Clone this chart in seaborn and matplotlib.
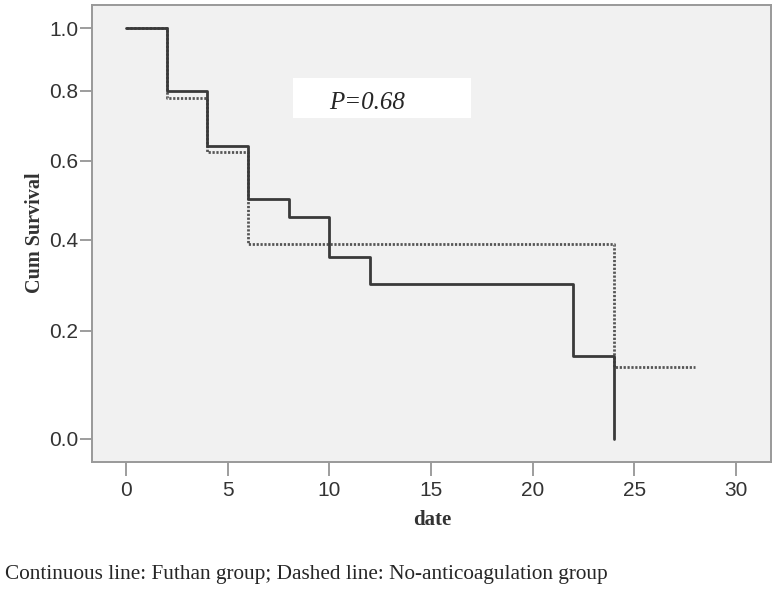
import numpy as np
import seaborn as sb
import matplotlib
matplotlib.use("Agg")
import matplotlib.pyplot as plt
from matplotlib.patches import Rectangle

### Kaplan-Meier steps.
futhan_time = [0, 2, 4, 6, 8, 10, 12, 22, 24]
futhan_surv = [1.0, 0.80, 0.64, 0.50, 0.455, 0.36, 0.30, 0.15, 0.0]
noanti_time = [0, 2, 4, 6, 24, 28]
noanti_surv = [1.0, 0.778, 0.622, 0.389, 0.13, 0.13]

y_ticks = [0.0, 0.2, 0.4, 0.6, 0.8, 1.0]
x_ticks = [0, 5, 10, 15, 20, 25, 30]
p_text = "P=0.68"
caption = "Continuous line: Futhan group; Dashed line: No-anticoagulation group"

sb.set_style("white")
plt.rcParams['font.family'] = ['Liberation Sans', 'DejaVu Sans']

fig = plt.figure(figsize=(7.78, 5.91), dpi=100)
ax = fig.add_axes([0.1183, 0.2188, 0.8723, 0.7727])
ax.set_facecolor('#f1f1f1')

### Survival axis is drawn on a log(1+S) scale, like the original.
ax.set_yscale('function', functions=(np.log1p, np.expm1))

sb.lineplot(x=noanti_time, y=noanti_surv, ax=ax, estimator=None, sort=False,
            drawstyle='steps-post', color='#555555', linewidth=2.0,
            linestyle=(0, (0.8, 0.6)))
sb.lineplot(x=futhan_time, y=futhan_surv, ax=ax, estimator=None, sort=False,
            drawstyle='steps-post', color='#3a3a3a', linewidth=2.0)

ax.set_xlim(-1.67, 31.7)
ax.set_ylim(-0.0376, 1.0802)
ax.set_xticks(x_ticks)
ax.set_xticklabels([str(t) for t in x_ticks])
ax.set_yticks(y_ticks)
ax.set_yticklabels(['%.1f' % t for t in y_ticks])
ax.yaxis.set_minor_locator(matplotlib.ticker.NullLocator())
ax.tick_params(axis='both', direction='out', color='#8c8c8c', width=1.2,
               labelsize=15, labelcolor='#333333', bottom=True, left=True)
ax.tick_params(axis='x', length=10, pad=4)
ax.tick_params(axis='y', length=8.5, pad=1.5)
for s in ax.spines.values():
    s.set_color('#999999')
    s.set_linewidth(1.4)
ax.set_xlabel('')
ax.set_ylabel('')

### P value box.
fig.patches.append(Rectangle((292.7 / 778, 1 - 117.7 / 591), 178 / 778, 39.4 / 591,
                             transform=fig.transFigure, facecolor='white',
                             edgecolor='none', zorder=3))
fig.text(366.7 / 778, 1 - 109.3 / 591, p_text, ha='center', va='baseline',
         fontsize=18, style='italic', family='Liberation Serif', zorder=4)

fig.text(35 / 778, 1 - 233 / 591, 'Cum Survival', rotation=90, ha='center',
         va='center', fontsize=14.5, fontweight='bold', family='Liberation Serif',
         color='#333333')
fig.text(432 / 778, 1 - 520 / 591, 'date', ha='center', va='center',
         fontsize=15, fontweight='bold', family='Liberation Serif', color='#333333')
fig.text(5 / 778, 1 - 575 / 591, caption, ha='left', va='center',
         fontsize=15.3, family='Liberation Serif')

fig.savefig('out.png', dpi=100)
